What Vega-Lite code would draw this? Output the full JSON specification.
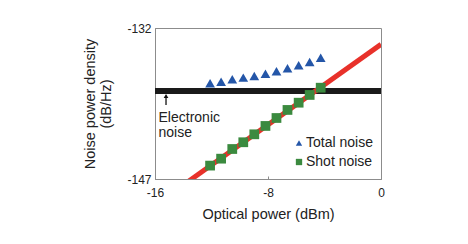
{
  "$schema": "https://vega.github.io/schema/vega-lite/v6.json",
  "width": 226,
  "height": 151,
  "autosize": "none",
  "padding": {"left": 155, "top": 28, "right": 87, "bottom": 65},
  "config": {
    "font": "Liberation Sans",
    "view": {"stroke": "#8c8c8c", "strokeWidth": 1},
    "axis": {"domainColor": "#8c8c8c", "tickColor": "#8c8c8c", "grid": false, "labelColor": "#222", "titleColor": "#222", "labelFontSize": 12, "titleFontSize": 14.5, "titleFontWeight": "normal", "labelFont": "Liberation Sans", "titleFont": "Liberation Sans"}
  },
  "datasets": {
    "markers": [
      {"series": "Total noise", "power": -12.1, "noise": -137.49},
      {"series": "Total noise", "power": -11.32, "noise": -137.33},
      {"series": "Total noise", "power": -10.53, "noise": -137.09},
      {"series": "Total noise", "power": -9.75, "noise": -136.93},
      {"series": "Total noise", "power": -8.97, "noise": -136.77},
      {"series": "Total noise", "power": -8.18, "noise": -136.54},
      {"series": "Total noise", "power": -7.4, "noise": -136.3},
      {"series": "Total noise", "power": -6.62, "noise": -136.0},
      {"series": "Total noise", "power": -5.83, "noise": -135.7},
      {"series": "Total noise", "power": -5.05, "noise": -135.38},
      {"series": "Total noise", "power": -4.27, "noise": -134.95},
      {"series": "Shot noise", "power": -12.1, "noise": -145.67},
      {"series": "Shot noise", "power": -11.32, "noise": -144.98},
      {"series": "Shot noise", "power": -10.53, "noise": -144.02},
      {"series": "Shot noise", "power": -9.75, "noise": -143.35},
      {"series": "Shot noise", "power": -8.97, "noise": -142.56},
      {"series": "Shot noise", "power": -8.18, "noise": -141.73},
      {"series": "Shot noise", "power": -7.4, "noise": -140.94},
      {"series": "Shot noise", "power": -6.62, "noise": -140.14},
      {"series": "Shot noise", "power": -5.83, "noise": -139.42},
      {"series": "Shot noise", "power": -5.05, "noise": -138.65},
      {"series": "Shot noise", "power": -4.27, "noise": -137.93}
    ],
    "fit": [
      {"power": -13.6, "noise": -147.2},
      {"power": 0.0, "noise": -133.62}
    ],
    "electronic": [{"noise": -138.26}],
    "arrow": [{"power": -15.22, "top": -138.75, "bottom": -139.65}],
    "labels": [
      {"power": -15.75, "noise": -140.95, "text": "Electronic"},
      {"power": -15.75, "noise": -142.45, "text": "noise"}
    ]
  },
  "layer": [
    {
      "data": {"name": "electronic"},
      "mark": {"type": "rule", "color": "#1a1a1a", "strokeWidth": 6},
      "encoding": {
        "y": {"field": "noise", "type": "quantitative", "scale": {"domain": [-147, -132], "nice": false, "zero": false}}
      }
    },
    {
      "data": {"name": "fit"},
      "mark": {"type": "line", "color": "#e8312a", "strokeWidth": 5, "clip": true},
      "encoding": {
        "x": {"field": "power", "type": "quantitative"},
        "y": {"field": "noise", "type": "quantitative"}
      }
    },
    {
      "data": {"name": "markers"},
      "mark": {"type": "point", "filled": true, "opacity": 1, "size": 95},
      "encoding": {
        "x": {
          "field": "power", "type": "quantitative",
          "scale": {"domain": [-16, 0], "nice": false, "zero": false},
          "axis": {"values": [-16, -8, 0], "labelExpr": "'' + datum.value", "title": "Optical power (dBm)", "tickSize": -3, "labelPadding": 11, "titlePadding": 9, "labelFlush": false}
        },
        "y": {
          "field": "noise", "type": "quantitative",
          "scale": {"domain": [-147, -132], "nice": false, "zero": false},
          "axis": {"values": [-147, -132], "labelExpr": "'' + datum.value", "title": ["Noise power density", "(dB/Hz)"], "tickSize": -3, "labelPadding": 7, "titlePadding": 13, "titleLineHeight": 16}
        },
        "shape": {
          "field": "series", "type": "nominal",
          "scale": {"domain": ["Total noise", "Shot noise"], "range": ["triangle-up", "square"]},
          "legend": {"title": null, "orient": "none", "legendX": 137, "legendY": 108, "labelFontSize": 14, "symbolSize": 40, "labelColor": "#222", "rowPadding": 5, "labelOffset": 0, "labelFont": "Liberation Sans"}
        },
        "color": {
          "field": "series", "type": "nominal",
          "scale": {"domain": ["Total noise", "Shot noise"], "range": ["#2456a8", "#3b8a3f"]},
          "legend": {"title": null, "orient": "none", "legendX": 137, "legendY": 108, "labelFontSize": 14, "symbolSize": 40, "labelColor": "#222", "rowPadding": 5, "labelOffset": 0, "labelFont": "Liberation Sans"}
        }
      }
    },
    {
      "data": {"name": "arrow"},
      "mark": {"type": "rule", "color": "#111", "strokeWidth": 1.3},
      "encoding": {
        "x": {"field": "power", "type": "quantitative"},
        "y": {"field": "top", "type": "quantitative"},
        "y2": {"field": "bottom"}
      }
    },
    {
      "data": {"name": "arrow"},
      "mark": {"type": "point", "shape": "triangle-up", "filled": true, "color": "#111", "size": 22, "opacity": 1},
      "encoding": {
        "x": {"field": "power", "type": "quantitative"},
        "y": {"field": "top", "type": "quantitative"}
      }
    },
    {
      "data": {"name": "labels"},
      "mark": {"type": "text", "align": "left", "baseline": "middle", "fontSize": 14, "color": "#222", "font": "Liberation Sans"},
      "encoding": {
        "x": {"field": "power", "type": "quantitative"},
        "y": {"field": "noise", "type": "quantitative"},
        "text": {"field": "text"}
      }
    }
  ]
}
